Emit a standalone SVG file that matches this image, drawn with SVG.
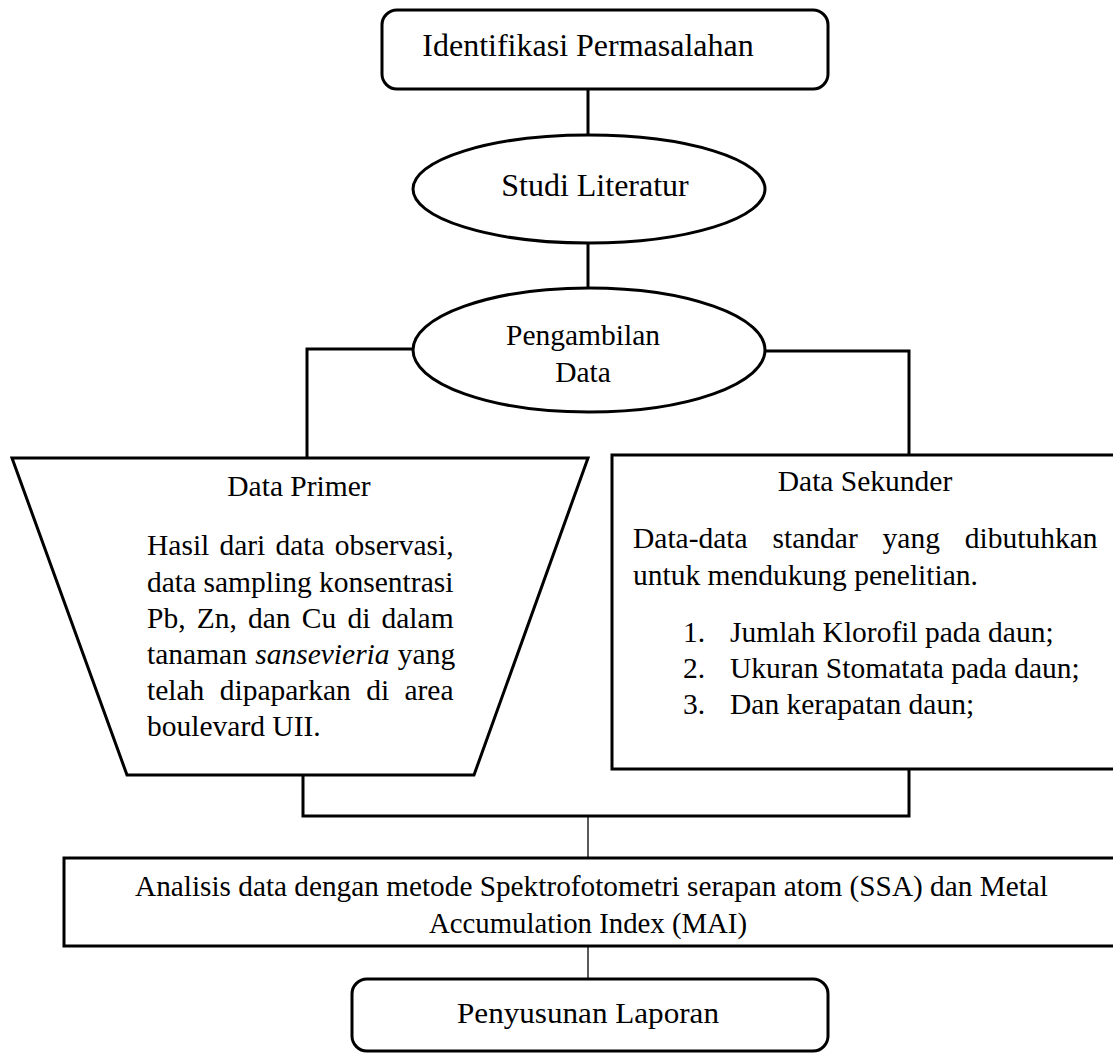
<svg xmlns="http://www.w3.org/2000/svg" width="1113" height="1053" viewBox="0 0 1113 1053">
<style>
.s{fill:#fff;stroke:#000;stroke-width:3}
.c{fill:none;stroke:#000;stroke-width:3}
.t{fill:none;stroke:#000;stroke-width:1.3}
text{font-family:"Liberation Serif","Times New Roman",serif;fill:#000}
.b{font-size:29.5px}
.h{font-size:32px}
</style>
<rect width="1113" height="1053" fill="#fff"/>
<g id="connectors">
<line class="c" x1="588" y1="89" x2="588" y2="135"/>
<line class="c" x1="588" y1="243" x2="588" y2="288"/>
<polyline class="c" points="413,349 307,349 307,458"/>
<polyline class="c" points="765,351 909,351 909,455"/>
<polyline class="c" points="303,775 303,816 909,816 909,769"/>
<line class="t" x1="588" y1="816" x2="588" y2="858"/>
<line class="t" x1="588" y1="946" x2="588" y2="979"/>
</g>
<g id="identifikasi">
<rect class="s" x="382" y="10" width="446" height="79" rx="15"/>
<text class="h" x="588" y="56" text-anchor="middle">Identifikasi Permasalahan</text>
</g>
<g id="studi">
<ellipse class="s" cx="589" cy="189" rx="176" ry="54"/>
<text class="h" x="595" y="196" font-size="33.5" text-anchor="middle">Studi Literatur</text>
</g>
<g id="pengambilan">
<ellipse class="s" cx="589" cy="350" rx="176" ry="62"/>
<text class="b" x="583" y="345" text-anchor="middle">Pengambilan</text>
<text class="b" x="583" y="382" text-anchor="middle">Data</text>
</g>
<g id="primer">
<polygon class="s" points="12,458 588,458 474,775 127,775"/>
<text class="b" x="299" y="496" text-anchor="middle">Data Primer</text>
<text class="b" x="147" y="555" word-spacing="2.8">Hasil dari data observasi,</text>
<text class="b" x="147" y="592">data sampling konsentrasi</text>
<text class="b" x="147" y="628" word-spacing="3.8">Pb, Zn, dan Cu di dalam</text>
<text class="b" x="147" y="664" word-spacing="0.9">tanaman <tspan font-style="italic">sansevieria</tspan> yang</text>
<text class="b" x="147" y="700" word-spacing="8">telah dipaparkan di area</text>
<text class="b" x="147" y="736">boulevard UII.</text>
</g>
<g id="sekunder">
<rect class="s" x="612" y="455" width="510" height="314"/>
<text class="b" x="865" y="491" text-anchor="middle">Data Sekunder</text>
<text class="b" x="633" y="548" word-spacing="17.5">Data-data standar yang dibutuhkan</text>
<text class="b" x="633" y="585">untuk mendukung penelitian.</text>
<text class="b" x="683" y="642">1.</text>
<text class="b" x="730" y="642">Jumlah Klorofil pada daun;</text>
<text class="b" x="683" y="678">2.</text>
<text class="b" x="730" y="678">Ukuran Stomatata pada daun;</text>
<text class="b" x="683" y="714">3.</text>
<text class="b" x="730" y="714">Dan kerapatan daun;</text>
</g>
<g id="analisis">
<rect class="s" x="64" y="858" width="1060" height="88"/>
<text class="b" x="135" y="896" font-size="30" textLength="913" lengthAdjust="spacingAndGlyphs">Analisis data dengan metode Spektrofotometri serapan atom (SSA) dan Metal</text>
<text class="b" x="588" y="933" font-size="30" text-anchor="middle" textLength="318" lengthAdjust="spacingAndGlyphs">Accumulation Index (MAI)</text>
</g>
<g id="penyusunan">
<rect class="s" x="352" y="979" width="476" height="72" rx="15"/>
<text class="b" x="588" y="1023" text-anchor="middle" textLength="262" lengthAdjust="spacingAndGlyphs">Penyusunan Laporan</text>
</g>
</svg>
